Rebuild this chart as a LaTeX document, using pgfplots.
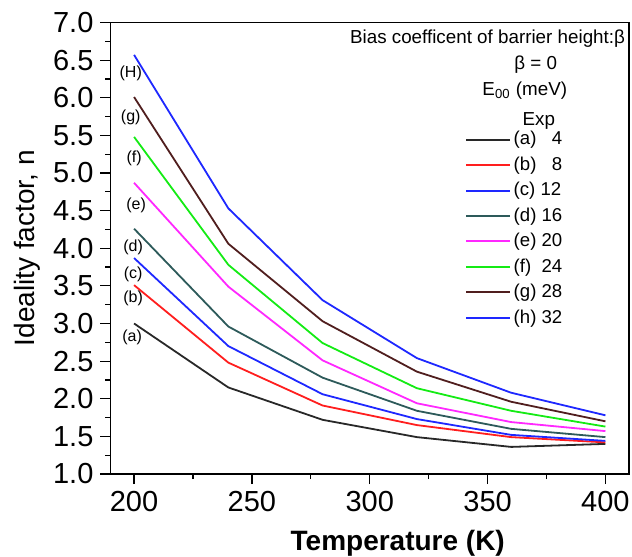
\documentclass[border=0pt]{standalone}
\usepackage{pgfplots}
\pgfplotsset{compat=1.18}
\usepackage{fontspec}
\setmainfont{Liberation Sans}
\definecolor{ca}{RGB}{40,40,40}
\definecolor{cb}{RGB}{255,30,30}
\definecolor{cc}{RGB}{30,40,255}
\definecolor{cd}{RGB}{45,90,90}
\definecolor{ce}{RGB}{255,40,255}
\definecolor{cf}{RGB}{20,235,20}
\definecolor{cg}{RGB}{80,30,30}
\definecolor{ch}{RGB}{30,40,255}
\begin{document}
\begin{tikzpicture}
\useasboundingbox (-55.25pt,-41.5pt) rectangle (260.75pt,237pt);
\begin{axis}[
  at={(0,0)}, anchor=south west,
  scale only axis,
  width=259.25pt, height=225.75pt,
  xmin=190, xmax=410, ymin=1, ymax=7,
  xtick={200,250,...,400}, minor x tick num=1,
  ytick={1,1.5,...,7}, minor y tick num=1,
  xtick pos=left, ytick pos=left,
  tick align=outside,
  major tick length=5pt, minor tick length=2.5pt,
  axis line style={line width=0.7pt},
  every tick/.style={line width=0.6pt, black},
  /pgf/number format/assume math mode=true,
  yticklabel style={/pgf/number format/.cd, fixed, fixed zerofill, precision=1},
  xticklabel style={/pgf/number format/.cd, fixed, precision=0},
  tick label style={font=\fontsize{14.5}{16}\selectfont},
  xlabel={\textbf{Temperature (K)}},
  ylabel={Ideality factor, n},
  label style={font=\fontsize{14}{17}\selectfont},
  x label style={at={(axis description cs:0.554,-0.1705)}, anchor=base},
  y label style={at={(axis description cs:-0.161,0.5)}, anchor=center},
  legend style={draw=none, fill=none, at={(rel axis cs:0.672,0.774)}, anchor=north west,
    font=\fontsize{9.3}{11}\selectfont, row sep=2.1pt, nodes={inner sep=1.2pt}},
  legend cell align=left,
  legend image code/.code={\draw[#1, line width=1pt] (0pt,0pt) -- (22pt,0pt);},
  every axis plot/.append style={line width=0.9pt},
]
\addplot[ca] coordinates {(200,3.00) (240,2.15) (280,1.72) (320,1.49) (360,1.36) (400,1.40)};
\addlegendentry{(a) \phantom{1}4}
\addplot[cb] coordinates {(200,3.51) (240,2.48) (280,1.91) (320,1.65) (360,1.49) (400,1.42)};
\addlegendentry{(b) \phantom{1}8}
\addplot[cc] coordinates {(200,3.87) (240,2.70) (280,2.06) (320,1.73) (360,1.52) (400,1.44)};
\addlegendentry{(c) 12}
\addplot[cd] coordinates {(200,4.26) (240,2.96) (280,2.28) (320,1.84) (360,1.60) (400,1.49)};
\addlegendentry{(d) 16}
\addplot[ce] coordinates {(200,4.87) (240,3.49) (280,2.51) (320,1.94) (360,1.69) (400,1.57)};
\addlegendentry{(e) 20}
\addplot[cf] coordinates {(200,5.48) (240,3.78) (280,2.74) (320,2.14) (360,1.84) (400,1.63)};
\addlegendentry{(f)\ \ 24}
\addplot[cg] coordinates {(200,6.01) (240,4.06) (280,3.03) (320,2.36) (360,1.96) (400,1.70)};
\addlegendentry{(g) 28}
\addplot[ch] coordinates {(200,6.57) (240,4.53) (280,3.31) (320,2.54) (360,2.08) (400,1.78)};
\addlegendentry{(h) 32}
\begin{scope}[font=\fontsize{8}{10}\selectfont]
\node at (axis cs:198.6,6.32) {(H)};
\node at (axis cs:198.6,5.74) {(g)};
\node at (axis cs:200,5.20) {(f)};
\node at (axis cs:200.9,4.57) {(e)};
\node at (axis cs:199.6,4.01) {(d)};
\node at (axis cs:199.6,3.65) {(c)};
\node at (axis cs:199.6,3.33) {(b)};
\node at (axis cs:199.2,2.82) {(a)};
\end{scope}
\begin{scope}[font=\fontsize{9.4}{11}\selectfont]
\node[anchor=east, inner sep=0pt] at (rel axis cs:0.993,0.964) {Bias coefficent of barrier height:β};
\node at (rel axis cs:0.820,0.906) {β = 0};
\node at (rel axis cs:0.799,0.849) {E\textsubscript{00} (meV)};
\node at (rel axis cs:0.826,0.782) {Exp};
\end{scope}
\end{axis}
\end{tikzpicture}
\end{document}
